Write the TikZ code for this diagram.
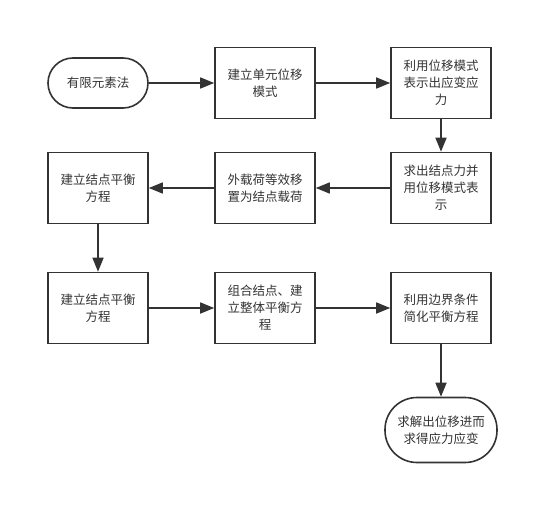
\documentclass[tikz,border=0pt]{standalone}
\usepackage{xcolor}
\usepackage{fontspec}
\setmainfont{Noto Sans CJK SC}
\usepackage{tikz}
\usetikzlibrary{arrows.meta}
\definecolor{linea}{HTML}{333333}

\tikzset{
  caja/.style={draw=linea, line width=1.6pt, text=linea, minimum width=100pt, minimum height=71pt, align=center, font=\fontsize{12.5}{17}\selectfont},
  terminal/.style={caja, rounded corners=25pt, minimum height=50pt},
  flecha/.style={draw=linea, line width=1.6pt, -{Triangle[length=14pt,width=11pt]}}
}

\begin{document}
\begin{tikzpicture}[x=1pt, y=-1pt]
        % Marco de la imagen
        \useasboundingbox (0,0) rectangle (559,524);
        % Fila superior
        \node[terminal] (inicio) at (98,83) {有限元素法};
        \node[caja] (modo) at (265,83) {建立单元位移\\模式};
        \node[caja] (tension) at (441,83) {利用位移模式\\表示出应变应\\力};
        % Segunda fila
        \node[caja] (fuerza) at (441,188) {求出结点力并\\用位移模式表\\示};
        \node[caja] (carga) at (265,188) {外载荷等效移\\置为结点载荷};
        \node[caja] (equil) at (98,188) {建立结点平衡\\方程};
        % Tercera fila
        \node[caja] (equilb) at (98,308) {建立结点平衡\\方程};
        \node[caja] (global) at (265,308) {组合结点、建\\立整体平衡方\\程};
        \node[caja] (borde) at (441,308) {利用边界条件\\简化平衡方程};
        % Final
        \node[terminal, minimum width=112pt, minimum height=65pt, rounded corners=32pt] (fin) at (441,430) {求解出位移进而\\求得应力应变};
        % Flechas
        \draw[flecha] (inicio) -- (modo);
        \draw[flecha] (modo) -- (tension);
        \draw[flecha] (tension) -- (fuerza);
        \draw[flecha] (fuerza) -- (carga);
        \draw[flecha] (carga) -- (equil);
        \draw[flecha] (equil) -- (equilb);
        \draw[flecha] (equilb) -- (global);
        \draw[flecha] (global) -- (borde);
        \draw[flecha] (borde) -- (fin);
    \end{tikzpicture}
\end{document}
